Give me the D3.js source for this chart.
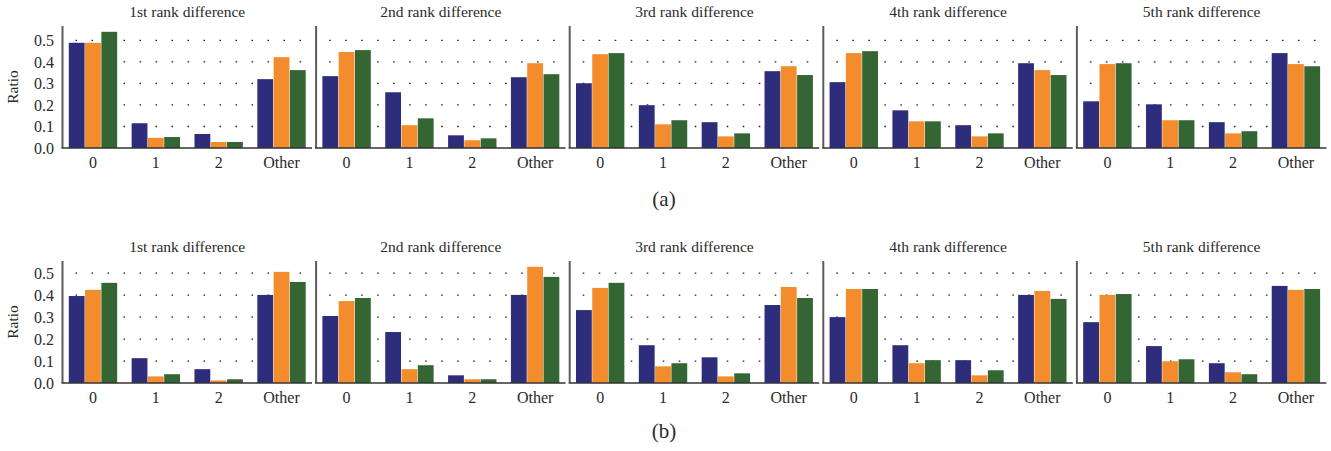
<!DOCTYPE html>
<html>
<head>
<meta charset="utf-8">
<script src="https://cdn.jsdelivr.net/npm/d3@7"></script>
<style>
  body { margin: 0; background: #fff; }
  svg text { font-family: "Liberation Serif", "Times New Roman", serif; fill: #2a2a2a; }
</style>
</head>
<body>
<svg id="chart" width="1331" height="451"></svg>
<script>
// categories and series
var categories = ["0", "1", "2", "Other"];
var seriesNames = ["s1", "s2", "s3"];
var panelTitles = ["1st rank difference", "2nd rank difference", "3rd rank difference", "4th rank difference", "5th rank difference"];
var yTicks = [0, 0.1, 0.2, 0.3, 0.4, 0.5];

// row (a): one array per panel, [blue, orange, green] per category
var rowA1 = [[0.489, 0.489, 0.540], [0.115, 0.047, 0.051], [0.065, 0.028, 0.028], [0.320, 0.422, 0.362]];
var rowA2 = [[0.334, 0.446, 0.455], [0.259, 0.106, 0.138], [0.059, 0.036, 0.045], [0.329, 0.394, 0.343]];
var rowA3 = [[0.301, 0.436, 0.441], [0.199, 0.110, 0.129], [0.120, 0.054, 0.068], [0.357, 0.380, 0.339]];
var rowA4 = [[0.306, 0.441, 0.450], [0.175, 0.124, 0.124], [0.106, 0.054, 0.068], [0.394, 0.362, 0.339]];
var rowA5 = [[0.217, 0.390, 0.394], [0.203, 0.129, 0.129], [0.120, 0.068, 0.078], [0.441, 0.390, 0.380]];

// row (b)
var rowB1 = [[0.396, 0.424, 0.456], [0.113, 0.030, 0.040], [0.063, 0.012, 0.017], [0.401, 0.506, 0.460]];
var rowB2 = [[0.305, 0.373, 0.387], [0.232, 0.063, 0.081], [0.035, 0.017, 0.017], [0.401, 0.529, 0.483]];
var rowB3 = [[0.332, 0.433, 0.456], [0.172, 0.076, 0.090], [0.117, 0.030, 0.044], [0.355, 0.437, 0.387]];
var rowB4 = [[0.300, 0.428, 0.428], [0.172, 0.090, 0.104], [0.104, 0.035, 0.058], [0.401, 0.419, 0.383]];
var rowB5 = [[0.277, 0.401, 0.405], [0.168, 0.099, 0.108], [0.090, 0.049, 0.040], [0.442, 0.424, 0.428]];

var colors = ["#2e2d7c", "#f28c2c", "#336633"];

var svg = d3.select("#chart");

var panelLeft = 62.5, panelStep = 253.6, panelWidth = 249.5;

function drawRow(rows, top, bottom, label, labelY) {
	var maxVal = d3.max(rows, function(p) { return d3.max(p, function(c) { return d3.max(c); }); });
	var yScale = d3.scaleLinear()
		.domain([0, maxVal * 1.05])
		.range([bottom, top]);

	rows.forEach(function(panel, pi) {
		var x0 = panelLeft + pi * panelStep;
		var g = svg.append("g");

		var xScale = d3.scaleBand()
			.domain(categories)
			.range([x0, x0 + panelWidth])
			.paddingInner(0.23)
			.paddingOuter(0.1);

		var inner = d3.scaleBand()
			.domain(seriesNames)
			.range([0, xScale.bandwidth()])
			.paddingInner(0.03);

		// dotted grid
		g.selectAll(".grid")
			.data(yTicks.slice(1))
			.enter().append("line")
			.attr("x1", x0)
			.attr("x2", x0 + panelWidth)
			.attr("y1", function(d) { return yScale(d); })
			.attr("y2", function(d) { return yScale(d); })
			.attr("stroke", "#222")
			.attr("stroke-width", 1.3)
			.attr("stroke-dasharray", "1.6,14.4")
			.attr("stroke-dashoffset", 3);

		// bars
		var groups = g.selectAll(".grp")
			.data(panel)
			.enter().append("g")
			.attr("transform", function(d, i) { return "translate(" + xScale(categories[i]) + ",0)"; });

		groups.selectAll("rect")
			.data(function(d) { return d; })
			.enter().append("rect")
			.attr("x", function(d, i) { return inner(seriesNames[i]); })
			.attr("width", inner.bandwidth())
			.attr("y", function(d) { return yScale(d); })
			.attr("height", function(d) { return bottom - yScale(d); })
			.attr("fill", function(d, i) { return colors[i]; });

		// axes lines
		g.append("line")
			.attr("x1", x0).attr("x2", x0)
			.attr("y1", top).attr("y2", bottom)
			.attr("stroke", "#333").attr("stroke-opacity", 0.8).attr("stroke-width", 2);
		g.append("line")
			.attr("x1", x0 - 1).attr("x2", x0 + panelWidth)
			.attr("y1", bottom).attr("y2", bottom)
			.attr("stroke", "#333").attr("stroke-opacity", 0.75).attr("stroke-width", 2);

		// x tick labels
		g.selectAll(".xl")
			.data(categories)
			.enter().append("text")
			.attr("x", function(d) { return xScale(d) + xScale.bandwidth() / 2; })
			.attr("y", bottom + 19.5)
			.attr("text-anchor", "middle")
			.style("font-size", "16px")
			.text(function(d) { return d; });

		// title
		g.append("text")
			.attr("x", x0 + panelWidth / 2)
			.attr("y", top - 9)
			.attr("text-anchor", "middle")
			.style("font-size", "15.5px")
			.text(panelTitles[pi]);

		if (pi === 0) {
			g.selectAll(".yl")
				.data(yTicks)
				.enter().append("text")
				.attr("x", x0 - 8.5)
				.attr("y", function(d) { return yScale(d); })
				.attr("dy", "0.35em")
				.attr("text-anchor", "end")
				.style("font-size", "16px")
				.text(d3.format(".1f"));

			g.append("text")
				.attr("transform", "translate(18," + ((top + bottom) / 2) + ") rotate(-90)")
				.attr("text-anchor", "middle")
				.style("font-size", "15.5px")
				.text("Ratio");
		}
	});

	svg.append("text")
		.attr("x", 664)
		.attr("y", labelY)
		.attr("text-anchor", "middle")
		.style("font-size", "21px")
		.text(label);
}

drawRow([rowA1, rowA2, rowA3, rowA4, rowA5], 26, 148, "(a)", 206);
drawRow([rowB1, rowB2, rowB3, rowB4, rowB5], 261, 383, "(b)", 438);
</script>
</body>
</html>
